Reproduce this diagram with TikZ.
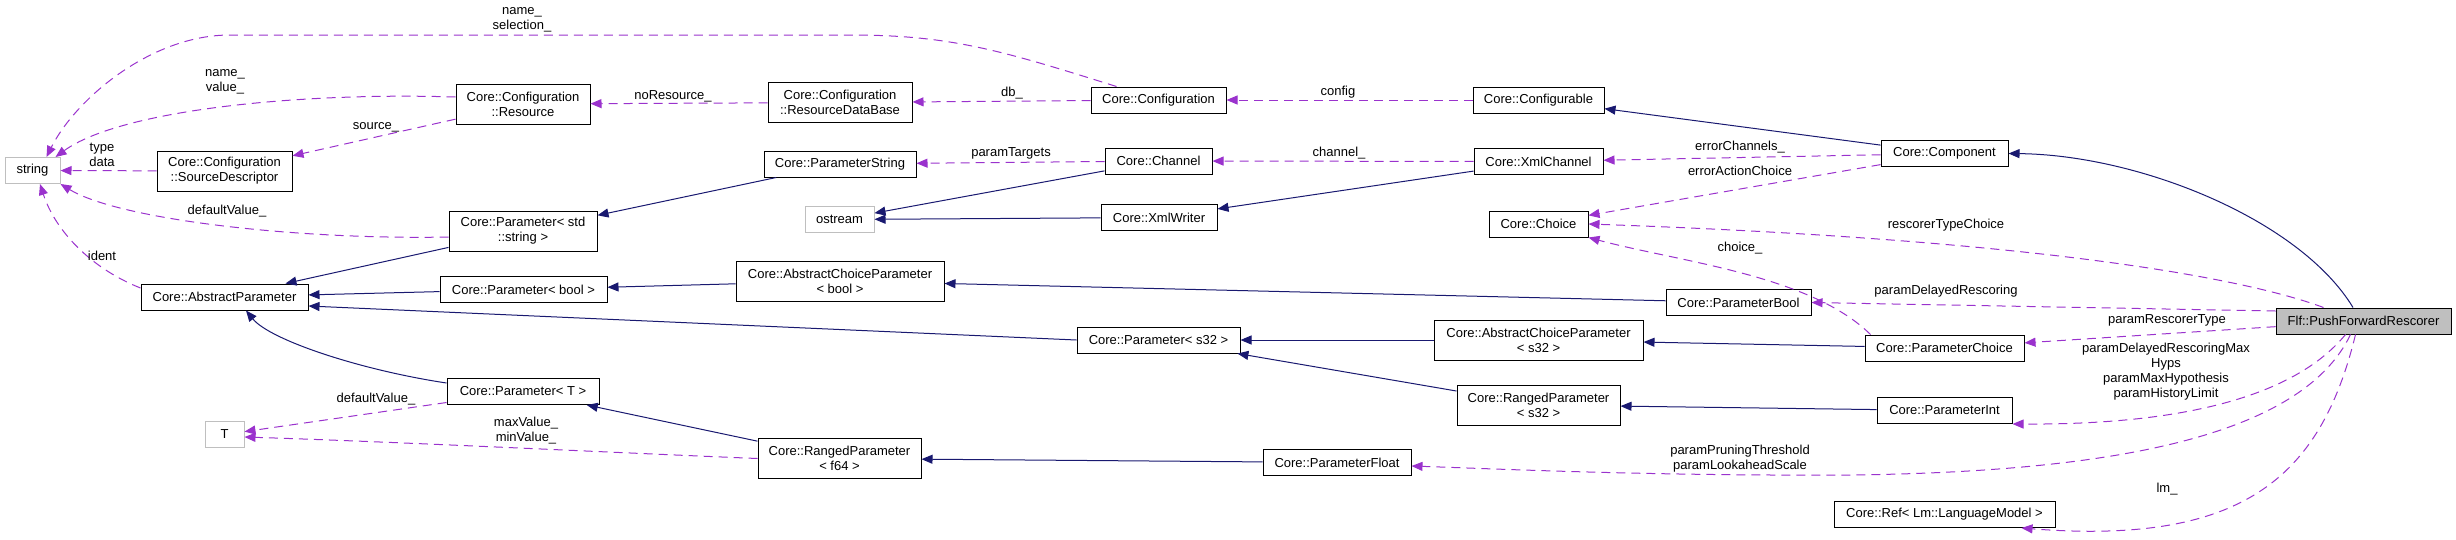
\documentclass[tikz,border=0pt]{standalone}
\usepackage{fontspec}
\setmainfont{Liberation Sans}
\usetikzlibrary{arrows.meta}
\definecolor{inhblue}{HTML}{191970}
\definecolor{usepurple}{HTML}{9A32CD}
\definecolor{extgray}{HTML}{BFBFBF}

\begin{document}
\begin{tikzpicture}[x=1pt,y=-1pt,
    >={Triangle[length=11pt,width=9pt]},
    every node/.style={font=\fontsize{13}{15}\selectfont},
    cls/.style={draw=black,line width=1pt,fill=white,inner sep=0pt,
                minimum height=26pt,align=center},
    ext/.style={cls,draw=extgray},
    twoline/.style={minimum height=40pt},
    inh/.style={->,draw=inhblue,line width=1pt},
    use/.style={->,draw=usepurple,line width=1pt,dash pattern=on 9pt off 6pt},
    lbl/.style={align=center,inner sep=0pt}]

  \useasboundingbox (0,0) rectangle (2456,539);

  % Klassen, kolom voor kolom
  \node[ext, minimum width=55pt]  (string)   at (32.5,170.5) {string};

  \node[cls, minimum width=135pt, twoline] (srcdesc)  at (224.5,171) {Core::Configuration\\::SourceDescriptor};
  \node[cls, minimum width=167pt] (absparam) at (224.5,297) {Core::AbstractParameter};
  \node[ext, minimum width=39pt]  (t)        at (224.5,434.5) {T};

  \node[cls, minimum width=134pt, twoline] (resource) at (523,104) {Core::Configuration\\::Resource};
  \node[cls, minimum width=148pt, twoline] (par-str)  at (523,231) {Core::Parameter< std\\::string >};
  \node[cls, minimum width=167pt] (par-bool) at (523.5,289.5) {Core::Parameter< bool >};
  \node[cls, minimum width=152pt] (par-T)    at (523,391.5) {Core::Parameter< T >};

  \node[cls, minimum width=144pt, twoline] (resdb) at (840,102.5) {Core::Configuration\\::ResourceDataBase};
  \node[cls, minimum width=152pt] (pstring)  at (840,164) {Core::ParameterString};
  \node[ext, minimum width=69pt]  (ostream)  at (839.5,219.5) {ostream};
  \node[cls, minimum width=208pt, twoline] (acbool) at (840,281) {Core::AbstractChoiceParameter\\< bool >};
  \node[cls, minimum width=163pt, twoline] (rf64)   at (839.5,458.5) {Core::RangedParameter\\< f64 >};

  \node[cls, minimum width=135pt] (conf)      at (1158.5,100) {Core::Configuration};
  \node[cls, minimum width=107pt] (channel)   at (1158.5,161) {Core::Channel};
  \node[cls, minimum width=116pt] (xmlwriter) at (1159,217.5) {Core::XmlWriter};
  \node[cls, minimum width=163pt] (par-s32)   at (1158.5,340) {Core::Parameter< s32 >};

  \node[cls, minimum width=148pt] (pfloat) at (1337,462.5) {Core::ParameterFloat};

  \node[cls, minimum width=131pt] (configurable) at (1538.5,100) {Core::Configurable};
  \node[cls, minimum width=129pt] (xmlchannel)   at (1538.5,161.5) {Core::XmlChannel};
  \node[cls, minimum width=99pt]  (choice)       at (1538.5,224) {Core::Choice};
  \node[cls, minimum width=209pt, twoline] (acs32) at (1538.5,340) {Core::AbstractChoiceParameter\\< s32 >};
  \node[cls, minimum width=163pt, twoline] (rs32)  at (1538.5,405) {Core::RangedParameter\\< s32 >};

  \node[cls, minimum width=145pt] (pbool) at (1738.5,302.5) {Core::ParameterBool};

  \node[cls, minimum width=127pt] (component) at (1944.5,153.5) {Core::Component};
  \node[cls, minimum width=159pt] (pchoice)   at (1944.5,348) {Core::ParameterChoice};
  \node[cls, minimum width=135pt] (pint)      at (1944.5,410.5) {Core::ParameterInt};
  \node[cls, minimum width=221pt] (reflm)     at (1944.5,514.5) {Core::Ref< Lm::LanguageModel >};

  \node[cls, minimum width=175pt, fill=extgray] (push) at (2363.5,321) {Flf::PushForwardRescorer};

  % Overerving
  \draw[inh] (par-str) -- (absparam);
  \draw[inh] (par-bool) -- (absparam);
  \draw[inh] (par-s32.west) -- ([yshift=-9pt]absparam.east);
  \draw[inh] ([yshift=8.5pt]par-T.west) .. controls (360,370) and (270,340) .. ([xshift=21.5pt]absparam.south);
  \draw[inh] (pstring) -- (par-str);
  \draw[inh] (channel) -- (ostream);
  \draw[inh] (xmlwriter) -- (ostream);
  \draw[inh] (xmlchannel) -- (xmlwriter);
  \draw[inh] (component) -- (configurable);
  \draw[inh] ([xshift=-10.5pt]push.north) .. controls (2300,220) and (2140,155) .. (component.east);
  \draw[inh] (acbool) -- (par-bool);
  \draw[inh] (pbool) -- (acbool);
  \draw[inh] (acs32) -- (par-s32);
  \draw[inh] (rs32) -- (par-s32);
  \draw[inh] (pchoice) -- (acs32);
  \draw[inh] (pint) -- (rs32);
  \draw[inh] (rf64) -- (par-T);
  \draw[inh] (pfloat) -- (rf64);

  % Gebruik
  \draw[use] ([xshift=-42pt]conf.north) .. controls (1000,50) and (950,35) .. (850,35)
    -- (230,35) .. controls (150,35) and (75,100) .. ([xshift=14pt]string.north);
  \draw[use] ([yshift=7pt]resource.west) .. controls (300,92) and (120,110) .. ([xshift=-5pt]string.north east);
  \draw[use] (resource) -- (srcdesc);
  \draw[use] (srcdesc) -- (string);
  \draw[use] ([yshift=-6pt]par-str.west) .. controls (300,240) and (120,220) .. (string.south east);
  \draw[use] ([yshift=9pt]absparam.west) .. controls (90,268) and (55,230) .. ([xshift=7.5pt]string.south);
  \draw[use] (resdb) -- (resource);
  \draw[use] (conf) -- (resdb);
  \draw[use] (configurable) -- (conf);
  \draw[use] (channel) -- (pstring);
  \draw[use] (xmlchannel) -- (channel);
  \draw[use] (component) -- (xmlchannel);
  \draw[use] (component) -- (choice);
  \draw[use] ([xshift=-40pt]push.north) .. controls (2250,280) and (2050,240) .. (choice.east);
  \draw[use] ([xshift=6pt]pchoice.north west) .. controls (1810,275) and (1680,262) .. (choice.south east);
  \draw[use] ([yshift=10pt]push.west) -- (pbool.east);
  \draw[use] (push) -- (pchoice);
  \draw[use] ([xshift=-18pt]push.south) .. controls (2300,390) and (2200,425) .. (pint.south east);
  \draw[use] ([xshift=-13pt]push.south) .. controls (2300,440) and (2100,472) .. (1850,475)
    .. controls (1650,476) and (1500,469) .. ([yshift=-3.5pt]pfloat.east);
  \draw[use] ([xshift=-8pt]push.south) .. controls (2320,480) and (2240,545) .. ([xshift=-34pt]reflm.south east);
  \draw[use] (par-T) -- (t);
  \draw[use] (rf64.west) .. controls (600,452) and (400,442) .. ([yshift=-2.5pt]t.east);

  % Labels
  \node[lbl] (l-namesel)  at (522,20)   {name\_\\selection\_};
  \node[lbl] (l-nameval)  at (225,82)   {name\_\\value\_};
  \node[lbl] (l-source)   at (376,127)  {source\_};
  \node[lbl] (l-typedata) at (102,155)  {type\\data};
  \node[lbl] (l-defstr)   at (227,211)  {defaultValue\_};
  \node[lbl] (l-ident)    at (102,256)  {ident};
  \node[lbl] (l-defT)     at (376,399)  {defaultValue\_};
  \node[lbl] (l-minmax)   at (526,431)  {maxValue\_\\minValue\_};
  \node[lbl] (l-nores)    at (673,96)   {noResource\_};
  \node[lbl] (l-db)       at (1012,93)  {db\_};
  \node[lbl] (l-targets)  at (1011,153) {paramTargets};
  \node[lbl] (l-config)   at (1338,92)  {config};
  \node[lbl] (l-channel)  at (1339,153) {channel\_};
  \node[lbl] (l-errch)    at (1740,147) {errorChannels\_};
  \node[lbl] (l-erract)   at (1740,171) {errorActionChoice};
  \node[lbl] (l-choice)   at (1740,248) {choice\_};
  \node[lbl] (l-restype)  at (1946,225) {rescorerTypeChoice};
  \node[lbl] (l-delayed)  at (1946,291) {paramDelayedRescoring};
  \node[lbl] (l-rtype)    at (2167,320) {paramRescorerType};
  \node[lbl] (l-ints)     at (2166,372) {paramDelayedRescoringMax\\Hyps\\paramMaxHypothesis\\paramHistoryLimit};
  \node[lbl] (l-floats)   at (1740,459) {paramPruningThreshold\\paramLookaheadScale};
  \node[lbl] (l-lm)       at (2167,489) {lm\_};

\end{tikzpicture}
\end{document}
